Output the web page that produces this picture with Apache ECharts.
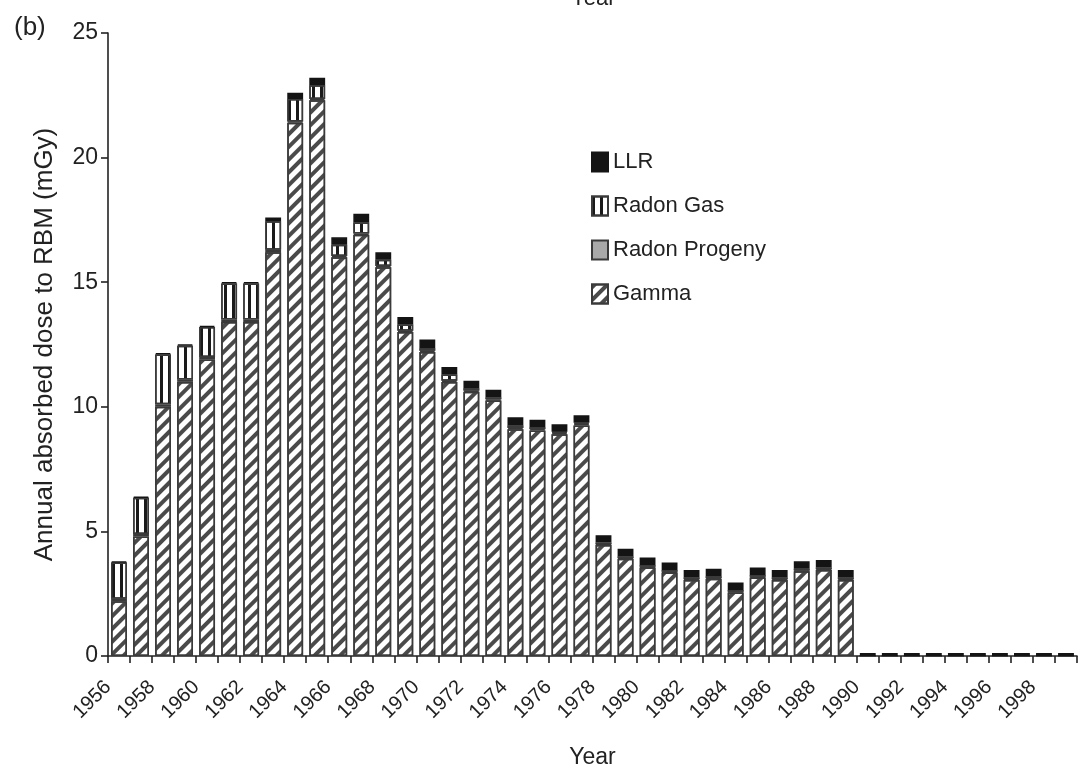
<!DOCTYPE html>
<html>
<head>
<meta charset="utf-8">
<title>Annual absorbed dose to RBM</title>
<script src="https://cdn.jsdelivr.net/npm/echarts@6/dist/echarts.min.js"></script>
<style>
  html, body { margin: 0; padding: 0; background: #fff; }
  #chart { width: 1083px; height: 774px; }
</style>
</head>
<body>
<div id="chart"></div>
<script>
// Calendar years, one bar per year
const years = [
  '1956','1957','1958','1959','1960','1961','1962','1963','1964','1965',
  '1966','1967','1968','1969','1970','1971','1972','1973','1974','1975',
  '1976','1977','1978','1979','1980','1981','1982','1983','1984','1985',
  '1986','1987','1988','1989','1990','1991','1992','1993','1994','1995',
  '1996','1997','1998','1999'
];
// Year boundaries used for the tick labels (start of each year)
const yearLabels = [
  '1956','1957','1958','1959','1960','1961','1962','1963','1964','1965',
  '1966','1967','1968','1969','1970','1971','1972','1973','1974','1975',
  '1976','1977','1978','1979','1980','1981','1982','1983','1984','1985',
  '1986','1987','1988','1989','1990','1991','1992','1993','1994','1995',
  '1996','1997','1998','1999','2000'
];

// Annual absorbed dose components (mGy)
const gamma = [
  2.2, 4.8, 10.0, 11.0, 11.9, 13.4, 13.4, 16.2, 21.4, 22.3,
  16.0, 16.9, 15.6, 13.0, 12.2, 11.0, 10.6, 10.25, 9.1, 9.05,
  8.9, 9.25, 4.45, 3.9, 3.55, 3.35, 3.05, 3.1, 2.55, 3.15,
  3.05, 3.4, 3.45, 3.05, 0, 0, 0, 0, 0, 0,
  0, 0, 0, 0
];
const radonProgeny = [
  0.1, 0.1, 0.1, 0.1, 0.1, 0.1, 0.1, 0.1, 0.05, 0.05,
  0.05, 0.05, 0.05, 0.05, 0.05, 0.05, 0.05, 0.05, 0.05, 0.05,
  0.05, 0.05, 0.03, 0.03, 0.03, 0.03, 0.03, 0.03, 0.03, 0.03,
  0.03, 0.03, 0.03, 0.03, 0, 0, 0, 0, 0, 0,
  0, 0, 0, 0
];
const radonGas = [
  1.45, 1.45, 2.0, 1.35, 1.2, 1.45, 1.45, 1.15, 0.9, 0.55,
  0.45, 0.45, 0.25, 0.25, 0.1, 0.25, 0.1, 0.08, 0.1, 0.08,
  0.05, 0.06, 0.07, 0.07, 0.07, 0.07, 0.07, 0.07, 0.07, 0.07,
  0.07, 0.07, 0.07, 0.07, 0, 0, 0, 0, 0, 0,
  0, 0, 0, 0
];
const llr = [
  0.05, 0.05, 0.05, 0.05, 0.05, 0.05, 0.05, 0.15, 0.25, 0.3,
  0.3, 0.35, 0.3, 0.3, 0.35, 0.3, 0.3, 0.3, 0.33, 0.3,
  0.3, 0.3, 0.3, 0.3, 0.3, 0.3, 0.3, 0.3, 0.3, 0.3,
  0.3, 0.3, 0.3, 0.3, 0.12, 0.12, 0.12, 0.12, 0.12, 0.12,
  0.12, 0.12, 0.12, 0.12
];

const FONT = 'Liberation Sans, Arial, sans-serif';
const INK = '#222';
const OUTLINE = '#3a3a3a';

const chart = echarts.init(document.getElementById('chart'), null, { renderer: 'canvas' });

function barSeries(name, data, itemStyle) {
  return {
    name: name,
    type: 'bar',
    stack: 'dose',
    xAxisIndex: 0,
    data: data,
    barWidth: '72%',
    itemStyle: Object.assign({ borderColor: OUTLINE, borderWidth: 1.5 }, itemStyle),
    emphasis: { disabled: true }
  };
}

chart.setOption({
  animation: false,
  backgroundColor: '#fff',
  aria: { enabled: false },
  grid: { left: 108, right: 6, top: 33, bottom: 115, containLabel: false },
  legend: {
    data: ['LLR', 'Radon Gas', 'Radon Progeny', 'Gamma'],
    orient: 'vertical',
    left: 586,
    top: 146,
    icon: 'rect',
    itemWidth: 16,
    itemHeight: 19,
    itemGap: 22,
    textStyle: { fontFamily: FONT, fontSize: 22, color: INK }
  },
  xAxis: [
    {
      type: 'category',
      data: years,
      position: 'bottom',
      axisLine: { lineStyle: { color: INK, width: 1.6 } },
      axisTick: { show: true, interval: 0, length: 7, lineStyle: { color: INK, width: 1.6 } },
      axisLabel: { show: false },
      splitLine: { show: false },
      name: 'Year',
      nameLocation: 'middle',
      nameGap: 90,
      nameTextStyle: { fontFamily: FONT, fontSize: 23, color: INK }
    },
    {
      type: 'category',
      data: yearLabels,
      position: 'bottom',
      boundaryGap: false,
      axisLine: { show: false },
      axisTick: { show: false },
      splitLine: { show: false },
      axisLabel: {
        interval: 1,
        rotate: 45,
        margin: 28,
        fontFamily: FONT,
        fontSize: 20,
        color: INK,
        formatter: function (v) { return v === '2000' ? '' : v; }
      }
    }
  ],
  yAxis: {
    type: 'value',
    min: 0,
    max: 25,
    interval: 5,
    axisLine: { show: true, lineStyle: { color: INK, width: 1.6 } },
    axisTick: { show: true, length: 7, lineStyle: { color: INK, width: 1.6 } },
    splitLine: { show: false },
    axisLabel: { fontFamily: FONT, fontSize: 23, color: INK, margin: 10 },
    name: 'Annual absorbed dose to RBM (mGy)',
    nameLocation: 'middle',
    nameGap: 50,
    nameRotate: 90,
    nameTextStyle: { fontFamily: FONT, fontSize: 26, color: INK }
  },
  graphic: [
    { type: 'text', left: 14, top: 15, style: { text: '(b)', font: '26px ' + FONT, fill: INK } },
    { type: 'text', left: 571, top: -12, style: { text: 'Year', font: '22px ' + FONT, fill: INK } }
  ],
  series: [
    barSeries('Gamma', gamma, {
      color: '#ffffff',
      decal: {
        symbol: 'rect',
        symbolSize: 1,
        color: '#4a4a4a',
        dashArrayX: [1, 0],
        dashArrayY: [4, 5],
        rotation: -Math.PI / 4
      }
    }),
    barSeries('Radon Progeny', radonProgeny, { color: '#a9a9a9' }),
    barSeries('Radon Gas', radonGas, {
      color: '#ffffff',
      decal: {
        symbol: 'rect',
        symbolSize: 1,
        color: '#1a1a1a',
        dashArrayX: [3, 5],
        dashArrayY: [1, 0],
        rotation: 0
      }
    }),
    barSeries('LLR', llr, { color: '#141414', borderColor: '#141414' })
  ]
});
</script>
</body>
</html>
